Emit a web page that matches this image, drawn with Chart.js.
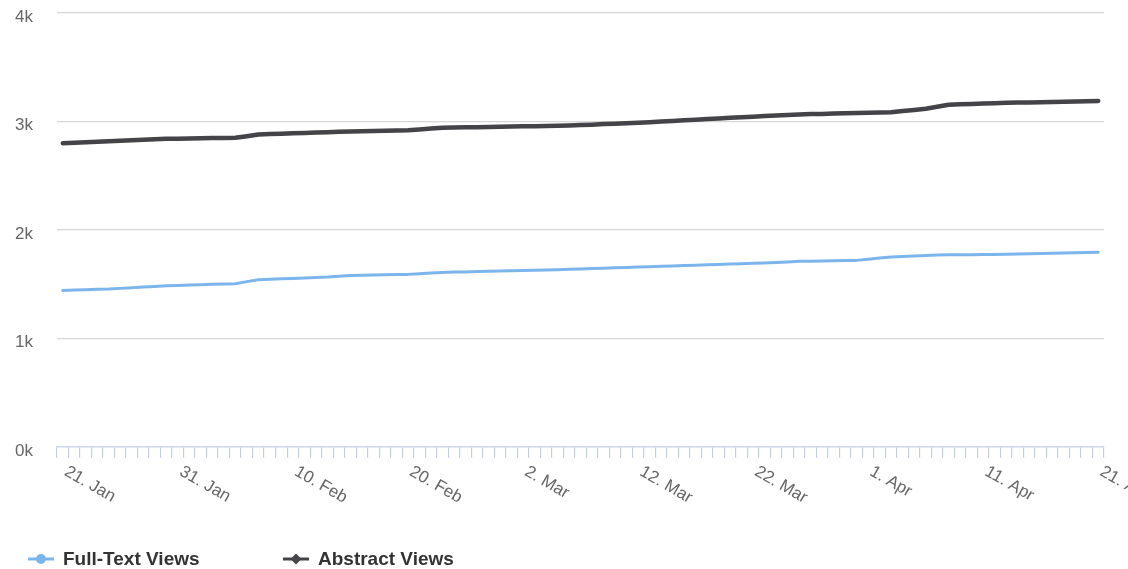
<!DOCTYPE html>
<html>
<head>
<meta charset="utf-8">
<script src="https://cdn.jsdelivr.net/npm/chart.js@4.4.1/dist/chart.umd.min.js"></script>
<style>
  body { margin: 0; background: #fff; }
  #wrap { position: relative; width: 1128px; height: 569px; }
  #legend { position: absolute; left: 28px; top: 548px; display: flex;
            font: bold 19px "Liberation Sans", Arial, sans-serif; color: #333333; }
  #legend .item { display: flex; align-items: center; min-width: 255px; }
  #legend svg { margin-right: 9px; }
</style>
</head>
<body>
<div id="wrap">
  <canvas id="chart" width="1128" height="569"></canvas>
  <div id="legend"></div>
</div>
<script>
// Categories: one per day, 21 Jan to 21 Apr
const MONTHS = ["Jan", "Feb", "Mar", "Apr", "May", "Jun", "Jul", "Aug", "Sep", "Oct", "Nov", "Dec"];
const dates = [];
for (let d = new Date(2023, 0, 21); d <= new Date(2023, 3, 21); d.setDate(d.getDate() + 1)) {
    dates.push(d.getDate() + ". " + MONTHS[d.getMonth()]);
}

// Y tick labels
const yTicks = [0, 1000, 2000, 3000, 4000];

// Series values (cumulative views)
const fullTextViews = [
    1443, 1446, 1450, 1453, 1456, 1462, 1468, 1474, 1480, 1486,
    1489, 1492, 1496, 1499, 1502, 1505, 1524, 1542, 1546, 1550,
    1554, 1558, 1562, 1566, 1574, 1581, 1583, 1585, 1587, 1589,
    1591, 1597, 1603, 1609, 1612, 1614, 1617, 1619, 1622, 1624,
    1627, 1629, 1632, 1634, 1638, 1641, 1645, 1648, 1652, 1655,
    1659, 1662, 1666, 1669, 1672, 1676, 1679, 1683, 1686, 1689,
    1693, 1696, 1701, 1706, 1711, 1713, 1715, 1716, 1718, 1720,
    1730, 1741, 1751, 1756, 1761, 1765, 1770, 1771, 1772, 1773,
    1774, 1775, 1777, 1779, 1781, 1783, 1785, 1787, 1790, 1792,
    1794
];
const abstractViews = [
    2800, 2805, 2809, 2814, 2818, 2822, 2827, 2831, 2836, 2840,
    2842, 2843, 2845, 2847, 2848, 2850, 2865, 2880, 2884, 2887,
    2891, 2895, 2898, 2902, 2905, 2908, 2910, 2913, 2915, 2918,
    2920, 2927, 2935, 2942, 2944, 2946, 2948, 2950, 2952, 2954,
    2956, 2957, 2959, 2961, 2963, 2967, 2971, 2976, 2980, 2984,
    2988, 2994, 2999, 3005, 3011, 3017, 3022, 3028, 3034, 3039,
    3044, 3050, 3055, 3060, 3065, 3068, 3070, 3073, 3076, 3078,
    3081, 3084, 3086, 3096, 3107, 3117, 3136, 3154, 3158, 3161,
    3165, 3168, 3172, 3174, 3176, 3178, 3180, 3183, 3185, 3187,
    3190
];

const COLOR_FULLTEXT = "#7cb5ec";
const COLOR_ABSTRACT = "#434348";
const FONT = '"Liberation Sans", Arial, sans-serif';

// Rotated date labels, every 10 days, drawn clockwise from the day tick
const xLabelPlugin = {
    id: "xLabels",
    afterDraw(chart) {
        const x = chart.scales.x;
        const ctx = chart.ctx;
        const step = x.getPixelForValue(1) - x.getPixelForValue(0);
        ctx.save();
        ctx.font = "17px " + FONT;
        ctx.fillStyle = "#666666";
        ctx.textAlign = "left";
        ctx.textBaseline = "top";
        for (let i = 0; i < dates.length; i += 10) {
            const px = x.getPixelForValue(i) - step / 2;
            ctx.save();
            ctx.translate(px + 13, x.top + 16);
            ctx.rotate(Math.PI / 6);
            ctx.fillText(dates[i], 0, 0);
            ctx.restore();
        }
        ctx.restore();
    }
};

const chart = new Chart("chart", {
    type: "line",
    data: {
        labels: dates,
        datasets: [{
            label: "Full-Text Views",
            data: fullTextViews,
            borderColor: COLOR_FULLTEXT,
            backgroundColor: COLOR_FULLTEXT,
            borderWidth: 3,
            pointStyle: "circle"
        },
        {
            label: "Abstract Views",
            data: abstractViews,
            borderColor: COLOR_ABSTRACT,
            backgroundColor: COLOR_ABSTRACT,
            borderWidth: 4.5,
            pointStyle: "rectRot"
        }]
    },
    options: {
        responsive: false,
        animation: false,
        layout: { autoPadding: false, padding: { left: 15, right: 24, top: 13, bottom: 0 } },
        elements: {
            point: { radius: 0 },
            line: { tension: 0, borderCapStyle: "round", borderJoinStyle: "round" }
        },
        plugins: {
            legend: { display: false },
            tooltip: { enabled: false }
        },
        scales: {
            x: {
                type: "category",
                offset: true,
                afterFit: (scale) => { scale.height = 122; },
                grid: {
                    offset: true,
                    drawOnChartArea: false,
                    drawTicks: true,
                    tickLength: 11,
                    color: "#c4cfe6",
                    lineWidth: 1.2
                },
                border: { display: true, color: "#ccd6eb", width: 1.5 },
                ticks: { display: false, autoSkip: false }
            },
            y: {
                min: 0,
                max: 4000,
                afterFit: (scale) => { scale.width = 42; },
                afterBuildTicks: (scale) => { scale.ticks = yTicks.map(v => ({ value: v })); },
                grid: {
                    drawTicks: false,
                    color: (c) => c.tick && c.tick.value === 0 ? "rgba(0,0,0,0)" : "#d6d6d6",
                    lineWidth: 1.2
                },
                border: { display: false },
                ticks: {
                    padding: 0,
                    crossAlign: "far",
                    labelOffset: 4,
                    color: "#666666",
                    font: { size: 17, family: FONT },
                    callback: (v) => (v / 1000) + "k"
                }
            }
        }
    },
    plugins: [xLabelPlugin]
});

// HTML legend: line with marker, then the series name
const legendEl = document.getElementById("legend");
chart.data.datasets.forEach((ds) => {
    const item = document.createElement("div");
    item.className = "item";
    const c = ds.borderColor;
    const marker = ds.pointStyle === "circle"
        ? '<circle cx="13" cy="10" r="5" fill="' + c + '"/>'
        : '<polygon points="13,4.5 18.5,10 13,15.5 7.5,10" fill="' + c + '"/>';
    item.innerHTML = '<svg width="26" height="20"><line x1="0" y1="10" x2="26" y2="10" stroke="' + c +
        '" stroke-width="3"/>' + marker + '</svg><span>' + ds.label + '</span>';
    legendEl.appendChild(item);
});
</script>
</body>
</html>
